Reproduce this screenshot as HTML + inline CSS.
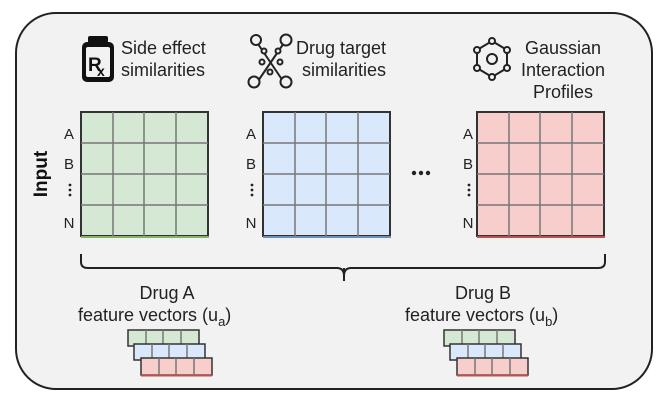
<!DOCTYPE html>
<html><head><meta charset="utf-8"><style>
html,body{margin:0;padding:0;background:#fff}
svg{display:block}
text{font-family:"Liberation Sans",Arial,sans-serif;fill:#222}
</style></head><body>
<svg width="669" height="404" viewBox="0 0 669 404" xmlns="http://www.w3.org/2000/svg">
<rect x="16" y="13" width="636" height="376" rx="40" ry="40" fill="#f2f2f2" stroke="#222" stroke-width="2"/>

<!-- Rx icon -->
<rect x="88" y="36" width="20" height="7" rx="2" fill="#111"/>
<rect x="82" y="42" width="32" height="40" rx="5" fill="#111"/>
<rect x="86" y="47" width="24" height="30" rx="2" fill="#f2f2f2"/>
<text x="88" y="71" font-size="19" font-weight="bold" style="fill:#111">R</text>
<text x="97" y="76" font-size="14" font-weight="bold" style="fill:#111">x</text>
<text x="121" y="54" font-size="18">Side effect</text>
<text x="121" y="76" font-size="18">similarities</text>

<!-- drug target icon -->
<g stroke="#222" stroke-width="2" fill="none">
<line x1="256" y1="41" x2="283" y2="81"/>
<line x1="258" y1="81" x2="286" y2="40"/>
<circle cx="256" cy="40" r="5" fill="#f2f2f2"/>
<circle cx="286" cy="40" r="5.5" fill="#f2f2f2"/>
<circle cx="254" cy="82" r="5.5" fill="#f2f2f2"/>
<circle cx="286" cy="82" r="5.5" fill="#f2f2f2"/>
<circle cx="264" cy="51" r="2.5" fill="#f2f2f2"/>
<circle cx="278" cy="51" r="2.5" fill="#f2f2f2"/>
<circle cx="262" cy="62" r="2.5" fill="#f2f2f2"/>
<circle cx="280" cy="62" r="2.5" fill="#f2f2f2"/>
<circle cx="270" cy="72" r="2.5" fill="#f2f2f2"/>
</g>
<text x="296" y="54" font-size="18">Drug target</text>
<text x="302" y="76" font-size="18">similarities</text>

<!-- gaussian icon -->
<g stroke="#222" stroke-width="2" fill="none">
<polygon points="492,41 507,50 507,68 492,77 477,68 477,50"/>
<circle cx="492" cy="59" r="5"/>
<circle cx="492" cy="41" r="3" fill="#f2f2f2"/>
<circle cx="507" cy="50" r="3" fill="#f2f2f2"/>
<circle cx="507" cy="68" r="3" fill="#f2f2f2"/>
<circle cx="492" cy="77" r="3" fill="#f2f2f2"/>
<circle cx="477" cy="68" r="3" fill="#f2f2f2"/>
<circle cx="477" cy="50" r="3" fill="#f2f2f2"/>
</g>
<text x="563" y="54" font-size="18" text-anchor="middle">Gaussian</text>
<text x="563" y="76" font-size="18" text-anchor="middle">Interaction</text>
<text x="563" y="98" font-size="18" text-anchor="middle">Profiles</text>

<!-- Input label -->
<text x="47" y="174" font-size="19" font-weight="bold" text-anchor="middle" transform="rotate(-90 47 174)" style="fill:#111">Input</text>

<!-- matrices -->
<g font-size="15">
<text x="69" y="139" text-anchor="middle">A</text>
<text x="69" y="169" text-anchor="middle">B</text>
<text x="69" y="228" text-anchor="middle">N</text>
<text x="251" y="139" text-anchor="middle">A</text>
<text x="251" y="169" text-anchor="middle">B</text>
<text x="251" y="228" text-anchor="middle">N</text>
<text x="468" y="139" text-anchor="middle">A</text>
<text x="468" y="169" text-anchor="middle">B</text>
<text x="468" y="228" text-anchor="middle">N</text>
</g>
<g fill="#222">
<circle cx="70" cy="185" r="1.4"/><circle cx="70" cy="190" r="1.4"/><circle cx="70" cy="195" r="1.4"/>
<circle cx="252" cy="185" r="1.4"/><circle cx="252" cy="190" r="1.4"/><circle cx="252" cy="195" r="1.4"/>
<circle cx="469" cy="185" r="1.4"/><circle cx="469" cy="190" r="1.4"/><circle cx="469" cy="195" r="1.4"/>
<circle cx="414" cy="173" r="2.2"/><circle cx="421" cy="173" r="2.2"/><circle cx="428" cy="173" r="2.2"/>
</g>

<g id="m1">
<rect x="81" y="112" width="127" height="124" fill="#d5e8d4" stroke="#333" stroke-width="2"/>
<g stroke="#777" stroke-width="1.5">
<line x1="113" y1="112" x2="113" y2="236"/><line x1="144" y1="112" x2="144" y2="236"/><line x1="176" y1="112" x2="176" y2="236"/>
<line x1="81" y1="143" x2="208" y2="143"/><line x1="81" y1="174" x2="208" y2="174"/><line x1="81" y1="205" x2="208" y2="205"/>
</g>
<line x1="81" y1="237" x2="209" y2="237" stroke="#82b366" stroke-width="2"/>
</g>
<rect x="263" y="112" width="127" height="124" fill="#dae8fc" stroke="#333" stroke-width="2"/>
<g stroke="#777" stroke-width="1.5">
<line x1="295" y1="112" x2="295" y2="236"/><line x1="326" y1="112" x2="326" y2="236"/><line x1="358" y1="112" x2="358" y2="236"/>
<line x1="263" y1="143" x2="390" y2="143"/><line x1="263" y1="174" x2="390" y2="174"/><line x1="263" y1="205" x2="390" y2="205"/>
</g>
<line x1="263" y1="237" x2="391" y2="237" stroke="#6c8ebf" stroke-width="2"/>
<rect x="477" y="112" width="127" height="124" fill="#f8cecc" stroke="#333" stroke-width="2"/>
<g stroke="#777" stroke-width="1.5">
<line x1="509" y1="112" x2="509" y2="236"/><line x1="540" y1="112" x2="540" y2="236"/><line x1="572" y1="112" x2="572" y2="236"/>
<line x1="477" y1="143" x2="604" y2="143"/><line x1="477" y1="174" x2="604" y2="174"/><line x1="477" y1="205" x2="604" y2="205"/>
</g>
<line x1="477" y1="237" x2="605" y2="237" stroke="#b85450" stroke-width="2"/>

<!-- brace -->
<path d="M81,254 V262 Q81,268 88,268 H337 Q344,268 344,276 Q344,268 351,268 H598 Q605,268 605,262 V254" fill="none" stroke="#222" stroke-width="2"/>
<line x1="344" y1="268" x2="344" y2="281" stroke="#222" stroke-width="2"/>

<!-- drug labels -->
<text x="167" y="299" font-size="18" text-anchor="middle">Drug A</text>
<text x="78" y="321" font-size="18">feature vectors (u<tspan font-size="13" dy="5">a</tspan><tspan dy="-5">)</tspan></text>
<text x="483" y="299" font-size="18" text-anchor="middle">Drug B</text>
<text x="405" y="321" font-size="18">feature vectors (u<tspan font-size="13" dy="5">b</tspan><tspan dy="-5">)</tspan></text>

<!-- vector stacks -->
<g id="va" stroke-width="1.5">
<rect x="128" y="330" width="71" height="16" fill="#d5e8d4" stroke="#333"/>
<g stroke="#777"><line x1="146" y1="330" x2="146" y2="346"/><line x1="163" y1="330" x2="163" y2="346"/><line x1="181" y1="330" x2="181" y2="346"/></g>
<rect x="134" y="344" width="71" height="16" fill="#dae8fc" stroke="#333"/>
<g stroke="#777"><line x1="152" y1="344" x2="152" y2="360"/><line x1="169" y1="344" x2="169" y2="360"/><line x1="187" y1="344" x2="187" y2="360"/></g>
<rect x="141" y="358" width="71" height="17" fill="#f8cecc" stroke="#333"/>
<g stroke="#777"><line x1="159" y1="358" x2="159" y2="375"/><line x1="176" y1="358" x2="176" y2="375"/><line x1="194" y1="358" x2="194" y2="375"/></g>
<line x1="141" y1="375.5" x2="212" y2="375.5" stroke="#b85450" stroke-width="2"/>
</g>
<use href="#va" x="316" y="0"/>
</svg>
</body></html>
